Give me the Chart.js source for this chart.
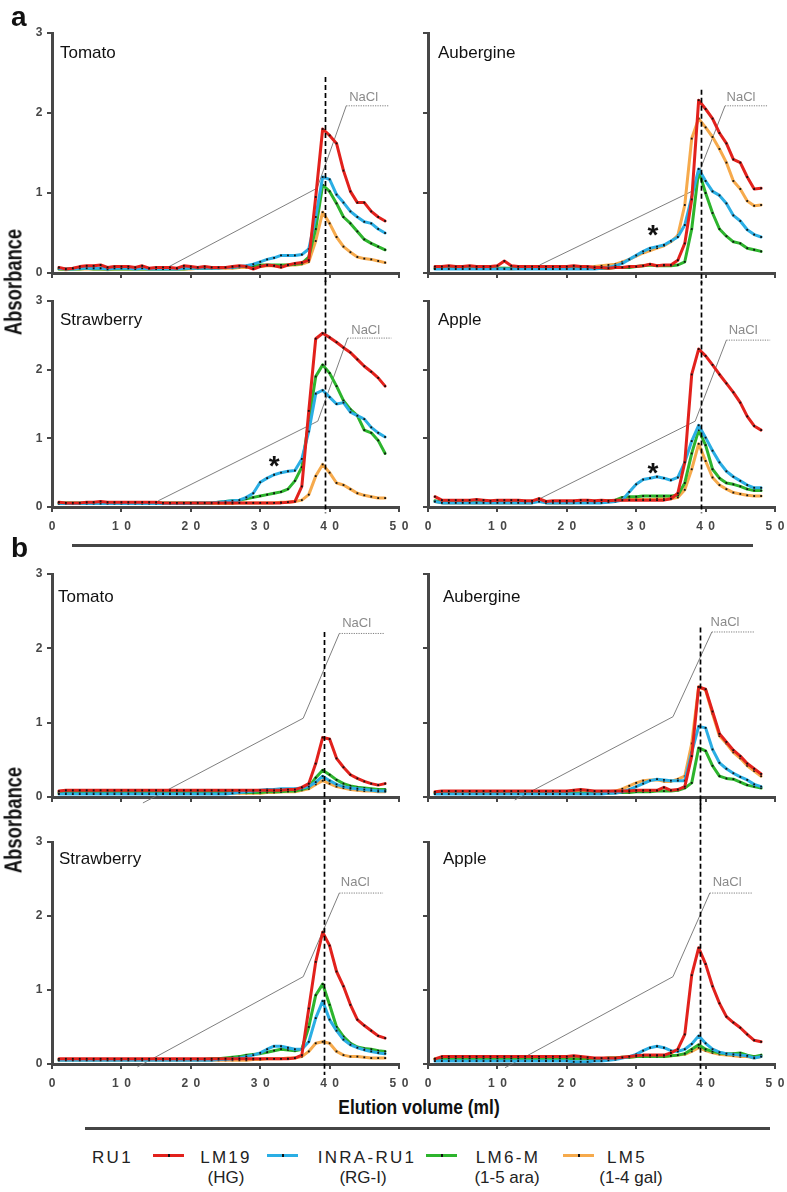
<!DOCTYPE html>
<html><head><meta charset="utf-8">
<script src="https://cdn.jsdelivr.net/npm/chart.js@4.4.1/dist/chart.umd.min.js"></script>
<style>
html,body{margin:0;padding:0;background:#fff;}
body{width:787px;height:1192px;position:relative;overflow:hidden;font-family:"Liberation Sans",Arial,sans-serif;}
canvas{position:absolute;}
.t{position:absolute;white-space:nowrap;line-height:1;}
.bar{position:absolute;background:#454545;}
</style></head><body>
<script>
// ---------- DATA ----------
const fractions = [1,2,3,4,5,6,7,8,9,10,11,12,13,14,15,16,17,18,19,20,21,22,23,24,25,26,27,28,29,30,31,32,33,34,35,36,37,38,39,40,41,42,43,44,45,46,47,48];
const xTickValues = [0,10,20,30,40,50];
const yTickValues = [0,1,2,3];
const seriesNames = ['LM19','INRA-RU1','LM6-M','LM5'];
const seriesSub = ['(HG)','(RG-I)','(1-5 ara)','(1-4 gal)'];

// a) Tomato
const aTomLM19 = [0.07,0.05,0.06,0.08,0.09,0.09,0.10,0.07,0.08,0.08, 0.08,0.07,0.09,0.06,0.07,0.07,0.07,0.06,0.09,0.08, 0.07,0.08,0.07,0.07,0.07,0.08,0.09,0.08,0.05,0.08, 0.10,0.09,0.07,0.10,0.12,0.13,0.16,0.95,1.80,1.72, 1.62,1.28,1.02,0.88,0.88,0.77,0.70,0.65];
const aTomINRA = [0.06,0.05,0.05,0.06,0.06,0.06,0.06,0.05,0.06,0.06, 0.06,0.05,0.06,0.05,0.05,0.05,0.05,0.05,0.06,0.06, 0.06,0.06,0.06,0.06,0.07,0.07,0.08,0.09,0.11,0.14, 0.17,0.19,0.22,0.22,0.22,0.23,0.30,0.70,1.20,1.17, 0.98,0.88,0.77,0.70,0.64,0.62,0.55,0.50];
const aTomLM6 = [0.05,0.05,0.05,0.05,0.06,0.05,0.05,0.05,0.05,0.05, 0.05,0.05,0.05,0.05,0.05,0.05,0.05,0.05,0.05,0.06, 0.06,0.06,0.06,0.07,0.07,0.07,0.08,0.08,0.09,0.10, 0.10,0.10,0.10,0.10,0.11,0.12,0.20,0.55,1.10,1.02, 0.87,0.70,0.62,0.52,0.42,0.37,0.33,0.29];
const aTomLM5 = [0.05,0.04,0.05,0.05,0.05,0.05,0.05,0.04,0.05,0.05, 0.05,0.05,0.05,0.05,0.05,0.05,0.05,0.05,0.05,0.05, 0.06,0.06,0.06,0.06,0.06,0.06,0.07,0.07,0.08,0.08, 0.09,0.09,0.09,0.10,0.10,0.11,0.14,0.40,0.76,0.62, 0.45,0.33,0.26,0.20,0.18,0.17,0.15,0.13];
// a) Aubergine
const aAubLM19 = [0.08,0.08,0.09,0.08,0.08,0.09,0.08,0.08,0.08,0.09, 0.15,0.09,0.08,0.08,0.08,0.08,0.08,0.08,0.08,0.08, 0.09,0.08,0.08,0.07,0.07,0.06,0.07,0.07,0.08,0.08, 0.09,0.11,0.09,0.10,0.10,0.16,0.37,0.92,2.16,2.05, 1.93,1.75,1.62,1.42,1.38,1.20,1.05,1.06];
const aAubINRA = [0.05,0.05,0.05,0.05,0.05,0.05,0.05,0.05,0.05,0.05, 0.05,0.05,0.05,0.05,0.05,0.05,0.05,0.05,0.05,0.05, 0.05,0.05,0.05,0.05,0.06,0.07,0.09,0.12,0.17,0.22, 0.27,0.31,0.33,0.35,0.40,0.45,0.60,0.95,1.30,1.15, 1.02,0.97,0.87,0.72,0.65,0.54,0.48,0.45];
const aAubLM6 = [0.06,0.06,0.06,0.06,0.06,0.06,0.06,0.06,0.06,0.06, 0.06,0.06,0.06,0.06,0.06,0.06,0.06,0.06,0.06,0.06, 0.06,0.06,0.06,0.06,0.06,0.06,0.07,0.07,0.07,0.08, 0.09,0.10,0.09,0.09,0.09,0.10,0.14,0.55,1.28,1.00, 0.75,0.55,0.46,0.39,0.37,0.31,0.29,0.27];
const aAubLM5 = [0.06,0.06,0.06,0.06,0.06,0.06,0.06,0.06,0.06,0.06, 0.06,0.05,0.06,0.06,0.06,0.06,0.06,0.06,0.06,0.06, 0.06,0.06,0.07,0.08,0.09,0.10,0.11,0.14,0.17,0.21, 0.25,0.28,0.31,0.34,0.39,0.47,0.85,1.68,1.93,1.82, 1.70,1.55,1.38,1.15,1.05,0.90,0.84,0.85];
// a) Strawberry
const aStrLM19 = [0.07,0.06,0.06,0.06,0.07,0.07,0.08,0.07,0.07,0.07, 0.07,0.07,0.07,0.07,0.07,0.06,0.06,0.06,0.06,0.06, 0.06,0.06,0.06,0.06,0.06,0.06,0.06,0.06,0.06,0.06, 0.06,0.06,0.06,0.07,0.08,0.30,1.40,2.45,2.53,2.47, 2.40,2.32,2.25,2.15,2.05,1.97,1.88,1.76];
const aStrINRA = [0.05,0.05,0.05,0.05,0.05,0.05,0.05,0.05,0.05,0.05, 0.05,0.05,0.05,0.05,0.05,0.05,0.05,0.05,0.05,0.05, 0.06,0.06,0.06,0.07,0.08,0.09,0.10,0.14,0.20,0.36, 0.42,0.47,0.50,0.52,0.53,0.70,1.10,1.65,1.70,1.60, 1.50,1.52,1.38,1.33,1.28,1.16,1.08,1.02];
const aStrLM6 = [0.06,0.06,0.06,0.06,0.06,0.06,0.06,0.06,0.06,0.06, 0.06,0.06,0.06,0.06,0.06,0.06,0.06,0.06,0.06,0.06, 0.06,0.06,0.06,0.07,0.08,0.09,0.10,0.12,0.14,0.16, 0.18,0.20,0.22,0.26,0.38,0.58,1.25,1.90,2.07,1.95, 1.76,1.55,1.42,1.33,1.12,1.08,0.97,0.78];
const aStrLM5 = [0.05,0.05,0.05,0.05,0.05,0.05,0.05,0.05,0.05,0.05, 0.05,0.05,0.05,0.05,0.05,0.05,0.05,0.05,0.05,0.05, 0.05,0.05,0.05,0.05,0.05,0.05,0.06,0.06,0.06,0.06, 0.06,0.06,0.07,0.07,0.08,0.10,0.18,0.45,0.62,0.50, 0.35,0.32,0.26,0.20,0.17,0.15,0.13,0.13];
// a) Apple
const aAppLM19 = [0.15,0.10,0.10,0.10,0.10,0.10,0.11,0.10,0.09,0.10, 0.10,0.10,0.10,0.09,0.09,0.12,0.08,0.09,0.09,0.09, 0.09,0.10,0.10,0.09,0.10,0.09,0.10,0.10,0.10,0.10, 0.10,0.10,0.10,0.10,0.12,0.20,0.65,1.93,2.30,2.20, 2.07,1.93,1.80,1.67,1.52,1.32,1.18,1.12];
const aAppINRA = [0.08,0.06,0.06,0.06,0.06,0.06,0.06,0.06,0.06,0.06, 0.06,0.06,0.06,0.06,0.06,0.08,0.06,0.06,0.06,0.06, 0.06,0.06,0.06,0.06,0.06,0.07,0.08,0.10,0.22,0.33, 0.40,0.42,0.44,0.42,0.39,0.43,0.65,0.96,1.19,1.01, 0.82,0.65,0.52,0.44,0.38,0.32,0.28,0.28];
const aAppLM6 = [0.09,0.07,0.07,0.07,0.07,0.07,0.07,0.07,0.07,0.07, 0.07,0.07,0.07,0.07,0.07,0.11,0.07,0.07,0.07,0.07, 0.07,0.07,0.08,0.08,0.08,0.09,0.10,0.14,0.15,0.15, 0.16,0.16,0.16,0.16,0.16,0.17,0.35,0.78,1.12,0.90, 0.55,0.42,0.35,0.33,0.30,0.26,0.24,0.24];
const aAppLM5 = [0.08,0.06,0.06,0.06,0.06,0.06,0.06,0.06,0.06,0.06, 0.06,0.06,0.06,0.06,0.06,0.12,0.06,0.06,0.06,0.06, 0.06,0.07,0.07,0.07,0.08,0.08,0.09,0.10,0.11,0.11, 0.11,0.11,0.12,0.12,0.12,0.14,0.25,0.55,0.92,0.67, 0.43,0.32,0.26,0.21,0.19,0.17,0.16,0.16];
// b) Tomato
const bTomLM19 = [0.08,0.09,0.09,0.09,0.09,0.09,0.09,0.09,0.09,0.09, 0.09,0.09,0.09,0.09,0.09,0.09,0.09,0.09,0.09,0.09, 0.09,0.09,0.09,0.09,0.09,0.09,0.09,0.09,0.09,0.09, 0.09,0.09,0.09,0.10,0.10,0.13,0.18,0.45,0.80,0.78, 0.52,0.40,0.30,0.25,0.21,0.18,0.16,0.18];
const bTomINRA = [0.04,0.04,0.04,0.04,0.04,0.04,0.04,0.04,0.04,0.04, 0.04,0.04,0.04,0.04,0.04,0.04,0.04,0.04,0.04,0.04, 0.04,0.04,0.04,0.04,0.04,0.05,0.06,0.07,0.08,0.09, 0.10,0.10,0.11,0.11,0.11,0.12,0.14,0.20,0.28,0.22, 0.17,0.14,0.12,0.11,0.10,0.09,0.08,0.08];
const bTomLM6 = [0.06,0.06,0.06,0.06,0.06,0.06,0.06,0.06,0.06,0.06, 0.06,0.06,0.06,0.06,0.06,0.06,0.06,0.06,0.06,0.06, 0.06,0.06,0.06,0.06,0.06,0.06,0.06,0.06,0.06,0.06, 0.07,0.07,0.07,0.08,0.08,0.10,0.13,0.26,0.36,0.30, 0.23,0.18,0.15,0.13,0.12,0.11,0.10,0.10];
const bTomLM5 = [0.05,0.05,0.05,0.05,0.05,0.05,0.05,0.05,0.05,0.05, 0.05,0.05,0.05,0.05,0.05,0.05,0.05,0.05,0.05,0.05, 0.05,0.05,0.05,0.05,0.05,0.05,0.05,0.05,0.05,0.05, 0.06,0.06,0.07,0.07,0.07,0.09,0.11,0.17,0.22,0.18, 0.14,0.12,0.10,0.09,0.08,0.08,0.07,0.07];
// b) Aubergine
const bAubLM19 = [0.07,0.08,0.08,0.08,0.08,0.08,0.08,0.08,0.08,0.08, 0.08,0.08,0.08,0.08,0.08,0.08,0.08,0.08,0.08,0.08, 0.09,0.10,0.09,0.08,0.08,0.08,0.08,0.08,0.08,0.09, 0.09,0.09,0.09,0.13,0.09,0.10,0.14,0.55,1.48,1.45, 1.15,0.85,0.74,0.63,0.55,0.45,0.38,0.31];
const bAubINRA = [0.04,0.04,0.04,0.04,0.04,0.04,0.04,0.04,0.04,0.04, 0.04,0.04,0.04,0.04,0.04,0.04,0.04,0.04,0.04,0.04, 0.04,0.04,0.04,0.04,0.04,0.05,0.05,0.07,0.10,0.14, 0.18,0.22,0.24,0.23,0.22,0.22,0.22,0.60,0.95,0.93, 0.64,0.46,0.38,0.32,0.27,0.23,0.17,0.14];
const bAubLM6 = [0.05,0.05,0.05,0.05,0.05,0.05,0.05,0.05,0.05,0.05, 0.05,0.05,0.05,0.05,0.05,0.05,0.05,0.05,0.05,0.05, 0.05,0.05,0.05,0.05,0.05,0.05,0.06,0.06,0.06,0.07, 0.07,0.07,0.08,0.08,0.08,0.09,0.12,0.19,0.66,0.62, 0.42,0.28,0.25,0.24,0.20,0.16,0.14,0.12];
const bAubLM5 = [0.06,0.06,0.06,0.06,0.06,0.06,0.06,0.06,0.06,0.06, 0.06,0.06,0.06,0.06,0.06,0.06,0.06,0.06,0.06,0.06, 0.06,0.07,0.07,0.06,0.06,0.07,0.08,0.11,0.15,0.19, 0.22,0.23,0.23,0.21,0.21,0.24,0.28,0.72,1.48,1.44, 1.12,0.82,0.72,0.60,0.52,0.42,0.35,0.28];
// b) Strawberry
const bStrLM19 = [0.07,0.07,0.07,0.07,0.07,0.07,0.07,0.07,0.07,0.07, 0.07,0.07,0.07,0.07,0.07,0.07,0.07,0.07,0.07,0.07, 0.07,0.07,0.07,0.07,0.07,0.07,0.07,0.07,0.07,0.07, 0.07,0.07,0.07,0.07,0.08,0.12,0.75,1.38,1.78,1.60, 1.25,1.05,0.80,0.60,0.52,0.45,0.38,0.35];
const bStrINRA = [0.05,0.05,0.05,0.05,0.05,0.05,0.05,0.05,0.05,0.05, 0.05,0.05,0.05,0.05,0.05,0.05,0.05,0.05,0.05,0.05, 0.05,0.05,0.05,0.06,0.06,0.07,0.08,0.10,0.12,0.15, 0.20,0.24,0.24,0.22,0.20,0.20,0.30,0.62,0.85,0.60, 0.45,0.33,0.26,0.22,0.19,0.17,0.15,0.14];
const bStrLM6 = [0.06,0.06,0.06,0.06,0.06,0.06,0.06,0.06,0.06,0.06, 0.06,0.06,0.06,0.06,0.06,0.06,0.06,0.06,0.06,0.06, 0.06,0.06,0.07,0.07,0.08,0.09,0.10,0.12,0.13,0.14, 0.16,0.18,0.20,0.19,0.18,0.20,0.50,0.93,1.08,0.80, 0.50,0.37,0.28,0.23,0.21,0.20,0.18,0.17];
const bStrLM5 = [0.05,0.05,0.05,0.05,0.05,0.05,0.05,0.05,0.05,0.05, 0.05,0.05,0.05,0.05,0.05,0.05,0.05,0.05,0.05,0.05, 0.05,0.05,0.05,0.05,0.05,0.05,0.05,0.05,0.06,0.06, 0.07,0.07,0.07,0.08,0.08,0.10,0.17,0.28,0.30,0.28, 0.17,0.12,0.10,0.10,0.09,0.08,0.08,0.08];
// b) Apple
const bAppLM19 = [0.07,0.10,0.10,0.10,0.10,0.10,0.10,0.10,0.10,0.10, 0.10,0.10,0.10,0.10,0.10,0.10,0.10,0.10,0.10,0.10, 0.11,0.10,0.09,0.08,0.08,0.08,0.08,0.09,0.10,0.11, 0.12,0.12,0.12,0.12,0.15,0.20,0.40,1.20,1.57,1.35, 1.05,0.82,0.64,0.56,0.49,0.40,0.32,0.30];
const bAppINRA = [0.04,0.04,0.04,0.04,0.04,0.04,0.04,0.04,0.04,0.04, 0.04,0.04,0.04,0.04,0.04,0.04,0.04,0.04,0.04,0.04, 0.03,0.03,0.03,0.04,0.04,0.05,0.06,0.08,0.10,0.13, 0.18,0.22,0.24,0.22,0.18,0.17,0.20,0.27,0.38,0.28, 0.20,0.16,0.14,0.13,0.12,0.11,0.08,0.10];
const bAppLM6 = [0.07,0.07,0.07,0.07,0.07,0.07,0.07,0.07,0.07,0.07, 0.07,0.07,0.07,0.07,0.07,0.07,0.07,0.07,0.07,0.07, 0.07,0.07,0.07,0.07,0.07,0.08,0.08,0.09,0.09,0.10, 0.10,0.10,0.10,0.10,0.11,0.12,0.14,0.20,0.26,0.20, 0.17,0.15,0.14,0.14,0.15,0.12,0.10,0.12];
const bAppLM5 = [0.06,0.06,0.06,0.06,0.06,0.06,0.06,0.06,0.06,0.06, 0.06,0.06,0.06,0.06,0.06,0.06,0.06,0.06,0.06,0.06, 0.07,0.07,0.07,0.07,0.07,0.08,0.08,0.09,0.09,0.10, 0.10,0.10,0.10,0.10,0.11,0.12,0.13,0.17,0.22,0.18, 0.15,0.13,0.12,0.11,0.10,0.10,0.08,0.10];

// NaCl gradient (x in ml, y in absorbance units of the panel)
const naclATomX = [16.0,38.2,42.4,48.6], naclATomY = [0.04,1.06,2.09,2.09];
const naclAAubX = [16.1,38.0,42.8,49.0], naclAAubY = [0.10,1.02,2.09,2.09];
const naclAStrX = [15.3,38.3,42.6,48.9], naclAStrY = [0.09,1.25,2.46,2.46];
const naclAAppX = [16.1,38.5,43.0,49.3], naclAAppY = [0.12,1.25,2.43,2.43];
const naclBTomX = [13.1,36.2,41.4,47.9], naclBTomY = [-0.08,1.06,2.20,2.20];
const naclBAubX = [12.5,35.3,40.9,47.1], naclBAubY = [-0.04,1.08,2.22,2.22];
const naclBStrX = [12.3,36.2,41.4,47.7], naclBStrY = [-0.04,1.18,2.31,2.31];
const naclBAppX = [11.1,35.3,40.6,46.8], naclBAppY = [-0.05,1.18,2.31,2.31];

// ---------- STYLE ----------
const seriesColors = ['#e2211c','#2aaee4','#2db42d','#f6aa4c'];
const FONT = '"Liberation Sans", Arial, sans-serif';
const AXIS = '#474747';
const TICK_SPACING = 5.5;

const overlay = {
  id: 'overlay',
  beforeDraw(chart) { chart.ctx.letterSpacing = TICK_SPACING + 'px'; },
  beforeDatasetsDraw(chart) { chart.ctx.letterSpacing = '0px'; },
  afterDatasetsDraw(chart, args, o) {
    const ctx = chart.ctx, xs = chart.scales.x, ys = chart.scales.y;
    ctx.save();
    ctx.letterSpacing = '0px';
    const px = Math.round(xs.getPixelForValue(o.vline[0])) + 0.5;
    ctx.setLineDash([5, 3]);
    ctx.lineWidth = 1.7;
    ctx.strokeStyle = '#000';
    ctx.beginPath();
    ctx.moveTo(px, ys.getPixelForValue(o.vline[1]));
    ctx.lineTo(px, ys.getPixelForValue(o.vline[2]));
    ctx.stroke();
    ctx.setLineDash([]);
    ctx.font = '13px ' + FONT;
    ctx.fillStyle = '#8a8a8a';
    ctx.textAlign = 'center';
    ctx.textBaseline = 'middle';
    ctx.fillText('NaCl', xs.getPixelForValue(o.nacl[0]), ys.getPixelForValue(o.nacl[1]));
    ctx.font = 'bold 28px ' + FONT;
    ctx.fillStyle = '#111';
    ctx.textBaseline = 'alphabetic';
    o.stars.forEach(s => {
      ctx.fillText('*', xs.getPixelForValue(s[0]), ys.getPixelForValue(s[1]) + 16);
    });
    ctx.restore();
  }
};

const panels = [
  {title:'Tomato',     box:[52,33,347,240],  padT:10, xLab:false, yLab:true,  series:[aTomLM19,aTomINRA,aTomLM6,aTomLM5], nx:naclATomX, ny:naclATomY, nacl:[44.9,2.20], vline:[39.3,2.45,-0.13], stars:[], tb:58},
  {title:'Aubergine',  box:[428,33,347,240], padT:10, xLab:false, yLab:false, series:[aAubLM19,aAubINRA,aAubLM6,aAubLM5], nx:naclAAubX, ny:naclAAubY, nacl:[45.1,2.20], vline:[39.3,2.29,-0.13], stars:[[32.4,0.56]], tb:58, tx:438},
  {title:'Strawberry', box:[52,301,347,206], padT:25, xLab:true,  yLab:true,  series:[aStrLM19,aStrINRA,aStrLM6,aStrLM5], nx:naclAStrX, ny:naclAStrY, nacl:[45.2,2.57], vline:[39.3,3.30,-0.09], stars:[[32.0,0.70]], tb:325},
  {title:'Apple',      box:[428,301,347,206],padT:25, xLab:true,  yLab:false, series:[aAppLM19,aAppINRA,aAppLM6,aAppLM5], nx:naclAAppX, ny:naclAAppY, nacl:[45.4,2.57], vline:[39.3,3.30,-0.09], stars:[[32.4,0.60]], tb:325, tx:438},
  {title:'Tomato',     box:[52,574,347,223], padT:10, xLab:false, yLab:true,  series:[bTomLM19,bTomINRA,bTomLM6,bTomLM5], nx:naclBTomX, ny:naclBTomY, nacl:[43.9,2.34], vline:[39.2,2.22,-0.17], stars:[], tb:602, tx:58},
  {title:'Aubergine',  box:[428,574,347,223],padT:10, xLab:false, yLab:false, series:[bAubLM19,bAubINRA,bAubLM6,bAubLM5], nx:naclBAubX, ny:naclBAubY, nacl:[42.8,2.35], vline:[39.2,2.28,-0.17], stars:[], tb:602, tx:443},
  {title:'Strawberry', box:[52,842,347,222], padT:45, xLab:true,  yLab:true,  series:[bStrLM19,bStrINRA,bStrLM6,bStrLM5], nx:naclBStrX, ny:naclBStrY, nacl:[43.7,2.46], vline:[39.2,3.57,-0.15], stars:[], tb:864, tx:59},
  {title:'Apple',      box:[428,842,347,222],padT:45, xLab:true,  yLab:false, series:[bAppLM19,bAppINRA,bAppLM6,bAppLM5], nx:naclBAppX, ny:naclBAppY, nacl:[43.1,2.46], vline:[39.2,3.57,-0.15], stars:[], tb:864, tx:443}
];

function makePanel(p) {
  const [L, T, W, H] = p.box;
  const padL = 40, padR = 14, padB = 30, padT = p.padT;
  const cw = W + padL + padR, ch = H + padT + padB;
  const cv = document.createElement('canvas');
  cv.width = cw; cv.height = ch;
  cv.style.left = (L - padL) + 'px'; cv.style.top = (T - padT) + 'px';
  cv.style.width = cw + 'px'; cv.style.height = ch + 'px';
  document.body.appendChild(cv);
  const ds = p.series.map((arr, i) => ({
    label: seriesNames[i],
    data: arr.map((v, j) => ({x: fractions[j], y: v})),
    borderColor: seriesColors[i], borderWidth: 3, borderJoinStyle: 'round', borderCapStyle: 'round',
    pointRadius: 1.3, pointBackgroundColor: '#111', pointBorderWidth: 0, pointStyle: 'rect',
    tension: 0, fill: false, order: i
  }));
  const last = p.nx.length - 2;
  ds.push({
    label: 'NaCl',
    data: p.nx.map((x, j) => ({x: x, y: p.ny[j]})),
    borderColor: '#707070', borderWidth: 0.9, pointRadius: 0, clip: false, order: 10, tension: 0,
    segment: { borderDash: c => (c.p0DataIndex === last ? [1.2, 1.2] : undefined) }
  });
  const tickFont = {family: FONT, size: 12, weight: 'bold'};
  new Chart(cv, {
    type: 'line',
    data: {datasets: ds},
    options: {
      responsive: false, animation: false, devicePixelRatio: 1,
      layout: {padding: {top: padT, right: padR, left: 0, bottom: 0}},
      plugins: {legend: {display: false}, tooltip: {enabled: false},
        overlay: {vline: p.vline, nacl: p.nacl, stars: p.stars}},
      scales: {
        x: {type: 'linear', min: 0, max: 50,
          afterBuildTicks: s => { s.ticks = xTickValues.map(v => ({value: v})); },
          afterFit: s => { s.height = padB; },
          grid: {drawOnChartArea: false, drawTicks: true, tickLength: 5, color: AXIS, lineWidth: 2},
          border: {display: true, color: AXIS, width: 3},
          ticks: {display: p.xLab, font: tickFont, color: '#474747', padding: 7, labelOffset: TICK_SPACING / 2, maxRotation: 0, autoSkip: false}
        },
        y: {type: 'linear', min: 0, max: 3,
          afterBuildTicks: s => { s.ticks = yTickValues.map(v => ({value: v})); },
          afterFit: s => { s.width = padL; },
          grid: {drawOnChartArea: false, drawTicks: true, tickLength: 5, color: AXIS, lineWidth: 2},
          border: {display: true, color: AXIS, width: 3},
          ticks: {display: p.yLab, font: tickFont, color: '#474747', padding: -1}
        }
      }
    },
    plugins: [overlay]
  });
  txt(p.title, p.tx !== undefined ? p.tx : 60, p.tb, {size: 17});
}

function txt(s, x, base, o) {
  o = o || {};
  const fs = o.size || 17;
  const d = document.createElement('div');
  d.className = 't';
  d.textContent = s;
  d.style.fontSize = fs + 'px';
  d.style.fontWeight = o.bold ? 'bold' : 'normal';
  d.style.color = o.color || '#111';
  if (o.ls) d.style.letterSpacing = o.ls + 'px';
  d.style.left = x + 'px';
  d.style.top = (base - 0.8465 * fs) + 'px';
  let tf = '';
  if (o.center) tf += 'translateX(-50%) ';
  if (o.sx) tf += 'scaleX(' + o.sx + ')';
  if (tf) d.style.transform = tf;
  document.body.appendChild(d);
  return d;
}
function vtxt(s, cx, cy, fs, sx) {
  const d = document.createElement('div');
  d.className = 't';
  d.textContent = s;
  d.style.fontSize = fs + 'px';
  d.style.fontWeight = 'bold';
  d.style.color = '#111';
  d.style.left = cx + 'px';
  d.style.top = cy + 'px';
  d.style.transform = 'translate(-50%,-50%) rotate(-90deg) scaleX(' + sx + ')';
  document.body.appendChild(d);
}
function bar(x, y, w, h, color) {
  const d = document.createElement('div');
  d.className = 'bar';
  d.style.left = x + 'px'; d.style.top = y + 'px';
  d.style.width = w + 'px'; d.style.height = h + 'px';
  if (color) d.style.background = color;
  document.body.appendChild(d);
  return d;
}

panels.forEach(makePanel);

txt('a', 11, 27, {size: 28, bold: true});
txt('b', 11, 558, {size: 28, bold: true});
vtxt('Absorbance', 14, 282, 23, 0.8);
vtxt('Absorbance', 14, 820, 23, 0.8);
txt('Elution volume (ml)', 419, 1114, {size: 20, bold: true, center: true, sx: 0.87});
bar(72, 543.5, 681, 3);
bar(85, 1126.5, 685, 3);

txt('RU1', 92, 1163, {size: 17, ls: 2.3, color: '#222'});
const legendSamples = [153, 267, 426, 563];
const legendText = [226, 367, 508, 627];
const legendSubX = [226, 363, 507, 631];
seriesNames.forEach((n, i) => {
  bar(legendSamples[i], 1153.5, 31, 3.5, seriesColors[i]);
  bar(legendSamples[i] + 14.5, 1154, 2.5, 2.5, '#111');
  txt(n, legendText[i], 1163, {size: 17, ls: 2.3, center: true, color: '#222'});
  txt(seriesSub[i], legendSubX[i], 1183, {size: 17, center: true, color: '#222'});
});
</script>
</body></html>
